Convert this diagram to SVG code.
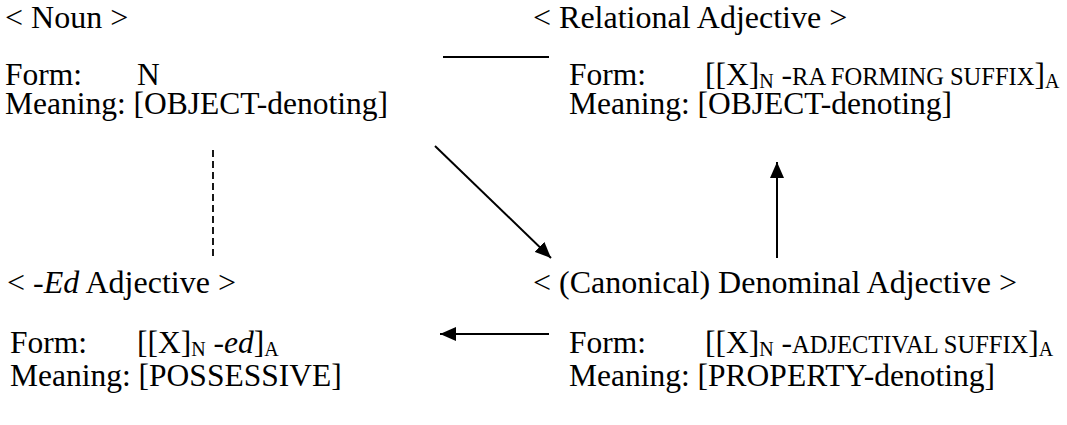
<svg xmlns="http://www.w3.org/2000/svg" width="1067" height="425" viewBox="0 0 1067 425">
  <style>
    text { font-family: "Liberation Serif", "Times New Roman", serif; font-size: 31.5px; fill: #000; }
    .title { font-size: 32px; }
    .sub { font-size: 20px; }
    .sc { font-size: 24.5px; }
    .it { font-style: italic; }
    .edge { stroke: #000; stroke-width: 2; fill: none; }
    .dash { stroke: #000; stroke-width: 1.8; stroke-dasharray: 7 4; fill: none; }
  </style>
  <defs>
    <marker id="arrow" viewBox="0 0 16 14" refX="16" refY="7" markerWidth="16" markerHeight="14" markerUnits="userSpaceOnUse" orient="auto">
      <path d="M0,0 L16,7 L0,14 Z" fill="#000"/>
    </marker>
  </defs>

  <rect width="1067" height="425" fill="#fff"/>

  <!-- Noun -->
  <g id="noun">
    <text class="title" x="5" y="28">&lt; Noun &gt;</text>
    <text x="5" y="85">Form:<tspan x="137">N</tspan></text>
    <text x="5" y="114">Meaning: [OBJECT-denoting]</text>
  </g>

  <!-- Relational adjective -->
  <g id="relational-adjective">
    <text class="title" x="533" y="28">&lt; Relational Adjective &gt;</text>
    <text x="569" y="85">Form:<tspan x="705">[[X]</tspan><tspan class="sub" dy="3">N</tspan><tspan dy="-3"> -</tspan><tspan class="sc">RA FORMING SUFFIX</tspan>]<tspan class="sub" dy="3">A</tspan></text>
    <text x="569" y="114">Meaning: [OBJECT-denoting]</text>
  </g>

  <!-- -Ed adjective -->
  <g id="ed-adjective">
    <text class="title" x="7" y="293">&lt; -<tspan class="it">Ed</tspan> Adjective &gt;</text>
    <text x="10" y="353">Form:<tspan x="137">[[X]</tspan><tspan class="sub" dy="3">N</tspan><tspan dy="-3"> </tspan><tspan class="it">-ed</tspan>]<tspan class="sub" dy="3">A</tspan></text>
    <text x="10" y="386">Meaning: [POSSESSIVE]</text>
  </g>

  <!-- Denominal adjective -->
  <g id="denominal-adjective">
    <text class="title" x="533" y="293">&lt; (Canonical) Denominal Adjective &gt;</text>
    <text x="569" y="353">Form:<tspan x="705">[[X]</tspan><tspan class="sub" dy="3">N</tspan><tspan dy="-3"> -</tspan><tspan class="sc">ADJECTIVAL SUFFIX</tspan>]<tspan class="sub" dy="3">A</tspan></text>
    <text x="569" y="386">Meaning: [PROPERTY-denoting]</text>
  </g>

  <!-- Connectors -->
  <g id="connectors">
    <line class="edge" x1="443" y1="57" x2="549" y2="57"/>
    <line class="dash" x1="213" y1="150" x2="213" y2="256"/>
    <line class="edge" x1="435" y1="146" x2="551" y2="258" marker-end="url(#arrow)"/>
    <line class="edge" x1="777" y1="258" x2="777" y2="162" marker-end="url(#arrow)"/>
    <line class="edge" x1="549" y1="334" x2="440" y2="334" marker-end="url(#arrow)"/>
  </g>
</svg>
